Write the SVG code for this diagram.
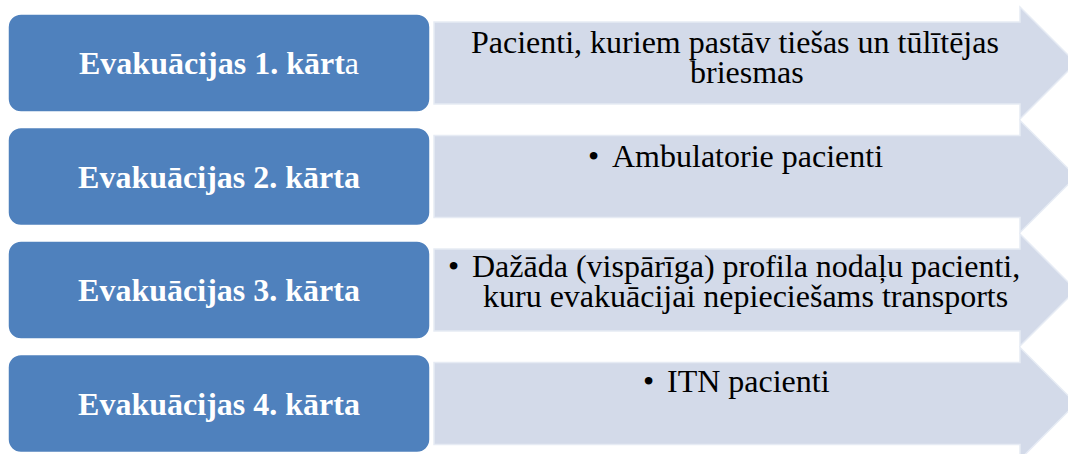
<svg xmlns="http://www.w3.org/2000/svg" width="1068" height="454" viewBox="0 0 1068 454">
<style>
.box{fill:#4F81BD;stroke:#FFFFFF;stroke-width:1.5}
.arr{fill:#D3DAE9;stroke:#E6EBF4;stroke-width:1.5}
.lbl{font-family:"Liberation Serif","Times New Roman",serif;font-size:32px;font-weight:bold;fill:#FFFFFF;text-anchor:middle}
.txt{font-family:"Liberation Serif","Times New Roman",serif;font-size:32px;fill:#000000}
</style>
<defs>
<path id="arrowShape" d="M434,22 H1020 V7 L1076,63 L1020,119 V104 H434 Z"/>
</defs>
<rect width="1068" height="454" fill="#FFFFFF"/>

<g id="stage1">
<rect class="box" x="8" y="14" width="422" height="98" rx="13"/>
<text class="lbl" x="219" y="74">Evakuācijas 1. kārt<tspan font-weight="normal">a</tspan></text>
</g>
<g id="desc1">
<use href="#arrowShape" class="arr"/>
<text class="txt" x="471" y="53">Pacienti, kuriem pastāv tiešas un tūlītējas</text>
<text class="txt" x="690" y="83">briesmas</text>
</g>

<g id="stage2">
<rect class="box" x="8" y="127.5" width="422" height="98" rx="13"/>
<text class="lbl" x="219" y="187.5">Evakuācijas 2. kārta</text>
</g>
<g id="desc2">
<use href="#arrowShape" class="arr" transform="translate(0,113.5)"/>
<text class="txt" x="588" y="167">•</text>
<text class="txt" x="612" y="167">Ambulatorie pacienti</text>
</g>

<g id="stage3">
<rect class="box" x="8" y="241" width="422" height="98" rx="13"/>
<text class="lbl" x="219" y="301">Evakuācijas 3. kārta</text>
</g>
<g id="desc3">
<use href="#arrowShape" class="arr" transform="translate(0,227)"/>
<text class="txt" x="448" y="277">•</text>
<text class="txt" x="472" y="277">Dažāda (vispārīga) profila nodaļu pacienti,</text>
<text class="txt" x="483" y="307">kuru evakuācijai nepieciešams transports</text>
</g>

<g id="stage4">
<rect class="box" x="8" y="354.5" width="422" height="98" rx="13"/>
<text class="lbl" x="219" y="414.5">Evakuācijas 4. kārta</text>
</g>
<g id="desc4">
<use href="#arrowShape" class="arr" transform="translate(0,340.5)"/>
<text class="txt" x="643" y="392">•</text>
<text class="txt" x="667" y="392">ITN pacienti</text>
</g>

<g id="connectors"></g>
</svg>
